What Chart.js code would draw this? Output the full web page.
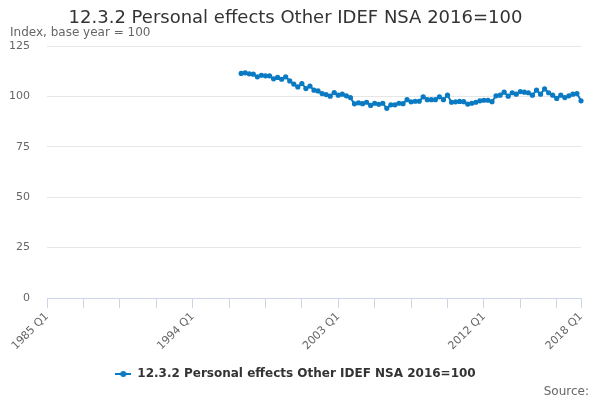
<!DOCTYPE html>
<html>
<head>
<meta charset="utf-8">
<script src="https://cdn.jsdelivr.net/npm/chart.js@4"></script>
<style>
html,body{margin:0;padding:0;background:#fff;}
#wrap{width:600px;height:400px;position:relative;}
</style>
</head>
<body>
<div id="wrap"><canvas id="c" width="600" height="400"></canvas></div>
<script>
// Categories: quarters from 1985 Q1 to 2018 Q1
const firstYear = 1985;
const lastYear = 2018;
const lastQuarter = 1;
const seriesStart = '1997 Q1';
const shownTickLabels = ['1985 Q1', '1994 Q1', '2003 Q1', '2012 Q1', '2018 Q1'];
const seriesName = '12.3.2 Personal effects Other IDEF NSA 2016=100';
const titleText = '12.3.2 Personal effects Other IDEF NSA 2016=100';
const yAxisTitle = 'Index, base year = 100';
const sourceText = 'Source:';
const yTicks = [0, 25, 50, 75, 100, 125];

// Series values from 1997 Q1 to 2018 Q1
const values = [
  111.4, 111.7, 111.2, 111.0, 109.7, 110.5, 110.2, 110.2,
  108.7, 109.4, 108.5, 109.7, 107.7, 106.1, 104.7, 106.4,
  103.9, 105.1, 103.1, 102.7, 101.4, 100.9, 100.1, 101.9,
  100.6, 101.1, 100.3, 99.4, 96.3, 96.8, 96.4, 97.1,
  95.5, 96.6, 96.1, 96.6, 94.1, 95.8, 95.8, 96.6,
  96.4, 98.4, 97.3, 97.6, 97.6, 99.8, 98.4, 98.4,
  98.4, 99.8, 98.4, 100.6, 97.1, 97.3, 97.5, 97.4,
  96.2, 96.6, 97.1, 97.8, 98.1, 98.1, 97.4, 100.3,
  100.6, 102.1, 100.1, 101.8, 101.1, 102.4, 102.1, 101.8,
  100.6, 103.1, 101.1, 103.7, 101.8, 100.6, 99.0, 100.6,
  99.4, 100.3, 101.1, 101.4, 97.8
];

const categories = [];
for (let y = firstYear; y <= lastYear; y++) {
  for (let q = 1; q <= 4; q++) {
    if (y === lastYear && q > lastQuarter) break;
    categories.push(y + ' Q' + q);
  }
}
const startIdx = categories.indexOf(seriesStart);
const seriesData = categories.map((c, i) => (i < startIdx ? null : values[i - startIdx]));

const lineColor = '#0a7bc2';
const FONT = "'DejaVu Sans', sans-serif";

// legend symbol: line with dot
const sym = document.createElement('canvas');
sym.width = 16; sym.height = 8;
(function(){
  const g = sym.getContext('2d');
  g.strokeStyle = lineColor; g.lineWidth = 2;
  g.beginPath(); g.moveTo(0, 4); g.lineTo(16, 4); g.stroke();
  g.fillStyle = lineColor;
  g.beginPath(); g.arc(8, 4, 3, 0, Math.PI * 2); g.fill();
})();

const sourcePlugin = {
  id: 'sourceText',
  afterDraw(chart) {
    const ctx = chart.ctx;
    ctx.save();
    ctx.font = '12px ' + FONT;
    ctx.fillStyle = '#666666';
    ctx.textAlign = 'right';
    ctx.textBaseline = 'alphabetic';
    ctx.fillText(sourceText, 589, 395);
    ctx.restore();
  }
};

const lastIdx = categories.length - 1;

new Chart(document.getElementById('c'), {
  type: 'line',
  data: {
    labels: categories,
    datasets: [{
      label: seriesName,
      data: seriesData,
      borderColor: lineColor,
      backgroundColor: lineColor,
      borderWidth: 2,
      pointRadius: 2.6,
      pointBorderWidth: 0,
      pointBackgroundColor: lineColor,
      pointHoverRadius: 3,
      tension: 0,
      spanGaps: false
    }]
  },
  options: {
    responsive: false,
    animation: false,
    devicePixelRatio: 1,
    layout: { padding: { top: 0, left: 10, right: 19, bottom: 10 } },
    plugins: {
      tooltip: { enabled: false },
      title: {
        display: true,
        text: titleText,
        color: '#333333',
        font: { family: FONT, size: 18, weight: 'normal', lineHeight: 1.0 },
        padding: { top: 9, bottom: 0 }
      },
      subtitle: {
        display: true,
        text: yAxisTitle,
        align: 'start',
        color: '#666666',
        font: { family: FONT, size: 12, weight: 'normal', lineHeight: 1.0 },
        padding: { top: 0, bottom: 7 }
      },
      legend: {
        position: 'bottom',
        labels: {
          color: '#333333',
          font: { family: FONT, size: 12, weight: 'bold' },
          usePointStyle: true,
          pointStyleWidth: 16,
          padding: 10,
          generateLabels(chart) {
            return chart.data.datasets.map((ds, i) => ({
              text: ds.label,
              pointStyle: sym,
              fillStyle: lineColor,
              strokeStyle: lineColor,
              lineWidth: 0,
              hidden: false,
              datasetIndex: i,
              fontColor: '#333333'
            }));
          }
        }
      }
    },
    scales: {
      x: {
        type: 'category',
        offset: false,
        border: { display: true, color: '#ccd6eb', width: 1 },
        grid: {
          drawOnChartArea: false,
          drawTicks: true,
          tickLength: 10,
          color: (ctx) => (ctx.index % 9 === 0 || ctx.index === lastIdx) ? '#ccd6eb' : 'rgba(0,0,0,0)'
        },
        ticks: {
          autoSkip: false,
          minRotation: 45,
          maxRotation: 45,
          padding: 2,
          color: '#666666',
          font: { family: FONT, size: 11 },
          callback: function(v, i) {
            const lab = categories[i];
            return shownTickLabels.includes(lab) ? lab : '';
          }
        },
        afterFit(scale) { scale.height = 60; }
      },
      y: {
        min: 0,
        max: 125,
        afterBuildTicks(scale) { scale.ticks = yTicks.map(v => ({ value: v })); },
        border: { display: false },
        grid: { color: '#e6e6e6', drawTicks: false, lineWidth: 1 },
        ticks: {
          padding: 17,
          color: '#666666',
          font: { family: FONT, size: 11 }
        },
        afterFit(scale) { scale.width = 37; }
      }
    }
  },
  plugins: [sourcePlugin]
});
</script>
</body>
</html>
